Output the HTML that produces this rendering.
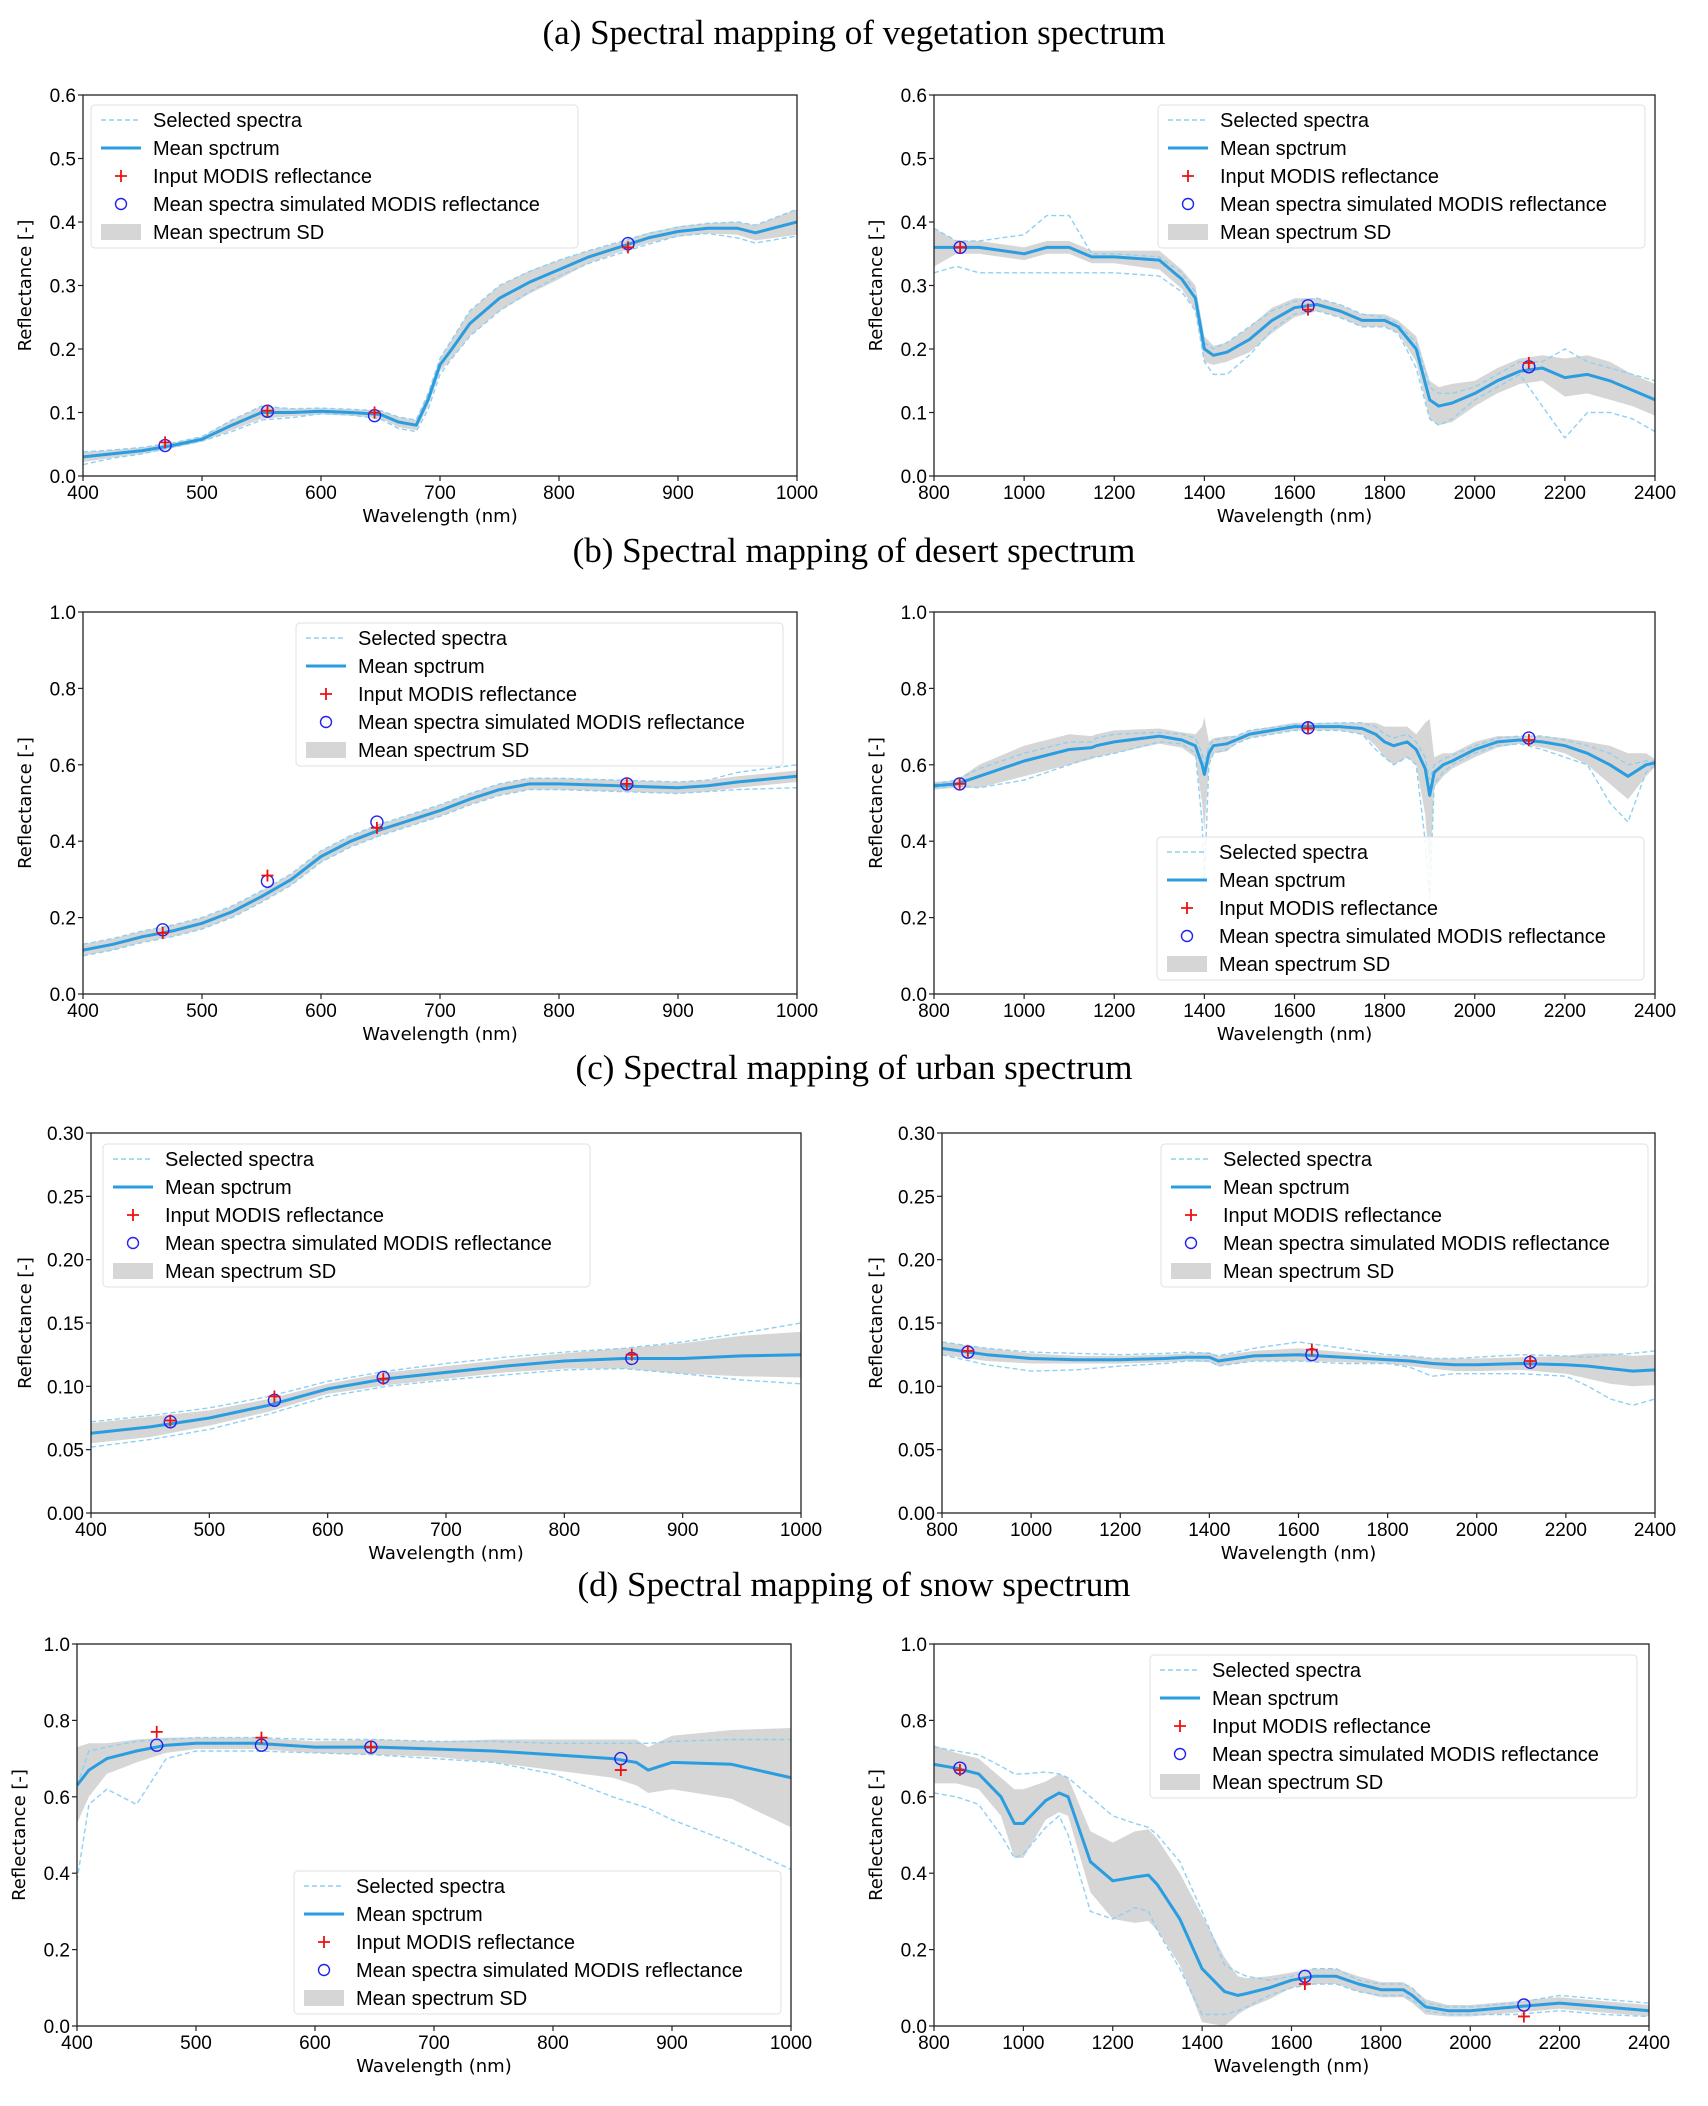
<!DOCTYPE html>
<html><head><meta charset="utf-8">
<style>
html,body{margin:0;padding:0;background:#fff;}
svg{display:block;}
.tk{font-family:"Liberation Sans Narrow","Liberation Sans",sans-serif;font-size:19px;fill:#000;}
.lg{font-family:"Liberation Sans Narrow","Liberation Sans",sans-serif;font-size:20px;fill:#000;}
.al{font-family:"DejaVu Sans","Liberation Sans",sans-serif;font-size:18px;fill:#000;}
.ttl{font-family:"Liberation Serif",serif;font-size:35px;fill:#000;}
</style></head>
<body>
<svg id="fig" width="1708" height="2106" viewBox="0 0 1708 2106" xmlns="http://www.w3.org/2000/svg">
<text class="ttl" x="854" y="44" text-anchor="middle">(a) Spectral mapping of vegetation spectrum</text>
<text class="ttl" x="854" y="562" text-anchor="middle">(b) Spectral mapping of desert spectrum</text>
<text class="ttl" x="854" y="1079" text-anchor="middle">(c) Spectral mapping of urban spectrum</text>
<text class="ttl" x="854" y="1596" text-anchor="middle">(d) Spectral mapping of snow spectrum</text>
</svg>
<script>
// ---------- data ----------
const aLeftWl=[400,425,450,475,500,525,550,575,600,625,650,665,680,690,700,710,725,750,775,800,825,850,875,900,925,950,965,1000];
const aLeftMean=[.03,.035,.04,.048,.058,.08,.10,.10,.102,.10,.097,.085,.08,.12,.175,.2,.24,.28,.305,.325,.345,.36,.375,.385,.39,.39,.383,.40];
const aLeftSd=[.008,.006,.005,.004,.004,.008,.01,.006,.005,.005,.006,.008,.008,.01,.01,.015,.02,.02,.018,.015,.01,.008,.008,.008,.008,.01,.012,.02];
const aLeftSel1=[.038,.041,.045,.052,.062,.088,.11,.106,.107,.105,.103,.093,.088,.13,.185,.215,.26,.3,.322,.34,.355,.368,.382,.392,.398,.4,.395,.42];
const aLeftSel2=[.018,.028,.035,.045,.055,.07,.088,.092,.098,.096,.09,.075,.07,.105,.16,.185,.22,.26,.29,.315,.335,.35,.365,.378,.382,.375,.367,.378];
const aLeftBands=[469,555,645,858];
const aLeftInput=[.053,.103,.1,.36];
const aLeftSim=[.048,.102,.095,.366];

const aRightWl=[800,850,900,1000,1050,1100,1150,1200,1300,1350,1380,1400,1420,1450,1500,1550,1600,1650,1700,1750,1800,1830,1870,1900,1920,1950,2000,2050,2100,2150,2200,2250,2300,2350,2400];
const aRightMean=[.36,.36,.36,.35,.36,.36,.345,.345,.34,.31,.28,.2,.19,.195,.215,.245,.265,.27,.26,.245,.245,.235,.2,.12,.11,.115,.13,.15,.165,.17,.155,.16,.15,.135,.12];
const aRightSd=[.03,.01,.01,.01,.01,.01,.01,.01,.015,.015,.02,.02,.015,.015,.02,.02,.015,.01,.01,.01,.01,.01,.02,.03,.03,.03,.02,.02,.02,.02,.03,.03,.03,.025,.025];
const aRightSel1=[.39,.37,.37,.38,.41,.41,.35,.35,.345,.32,.29,.21,.2,.21,.235,.26,.275,.28,.27,.255,.25,.24,.21,.14,.13,.13,.14,.16,.18,.18,.2,.18,.17,.16,.15];
const aRightSel2=[.32,.33,.32,.32,.32,.32,.32,.32,.315,.29,.26,.18,.16,.16,.19,.23,.255,.26,.25,.235,.235,.225,.17,.09,.08,.09,.12,.14,.16,.11,.06,.1,.1,.09,.07];
const aRightBands=[858,1630,2120];
const aRightInput=[.36,.262,.178];
const aRightSim=[.36,.268,.172];

const bLeftWl=[400,425,450,475,500,525,550,575,600,625,650,675,700,725,750,775,800,850,900,925,950,1000];
const bLeftMean=[.115,.13,.15,.165,.185,.215,.255,.30,.36,.40,.43,.455,.48,.51,.535,.55,.55,.545,.54,.545,.555,.57];
const bLeftSd=[.015,.015,.015,.015,.015,.015,.015,.015,.015,.015,.015,.015,.015,.015,.015,.015,.015,.015,.015,.015,.015,.015];
const bLeftSel1=[.13,.145,.165,.18,.2,.23,.27,.315,.375,.415,.445,.47,.495,.525,.55,.565,.565,.56,.555,.56,.58,.6];
const bLeftSel2=[.1,.115,.135,.15,.17,.2,.24,.285,.345,.385,.415,.44,.465,.495,.52,.535,.535,.53,.525,.53,.535,.54];
const bLeftBands=[467,555,647,857];
const bLeftInput=[.16,.31,.435,.55];
const bLeftSim=[.168,.295,.45,.55];

const bRightWl=[800,850,900,1000,1100,1150,1160,1200,1300,1350,1380,1395,1400,1410,1420,1450,1470,1480,1500,1600,1700,1750,1780,1800,1820,1850,1870,1890,1900,1910,1930,1950,2000,2050,2100,2150,2200,2250,2300,2340,2380,2400];
const bRightMean=[.545,.55,.57,.61,.64,.645,.65,.66,.675,.665,.65,.6,.575,.63,.65,.655,.665,.67,.68,.7,.7,.695,.68,.66,.65,.66,.64,.59,.52,.58,.6,.61,.64,.66,.665,.66,.65,.63,.6,.57,.6,.605];
const bRightSd=[.01,.01,.03,.04,.04,.03,.03,.03,.02,.02,.03,.1,.15,.03,.02,.02,.01,.01,.01,.01,.01,.015,.03,.04,.05,.04,.04,.12,.2,.04,.03,.02,.02,.015,.01,.015,.02,.03,.05,.06,.03,.01];
const bRightSel1=[.55,.56,.59,.63,.66,.66,.67,.68,.685,.68,.67,.63,.6,.65,.665,.67,.675,.68,.69,.705,.71,.71,.7,.68,.67,.68,.66,.62,.56,.6,.615,.625,.65,.67,.675,.675,.665,.65,.63,.6,.61,.61];
const bRightSel2=[.54,.545,.54,.56,.6,.62,.62,.63,.66,.655,.63,.45,.3,.6,.63,.64,.655,.66,.67,.69,.69,.68,.64,.62,.6,.62,.6,.4,.25,.55,.58,.6,.63,.65,.655,.64,.62,.6,.5,.45,.58,.6];
const bRightBands=[857,1630,2120];
const bRightInput=[.55,.695,.665];
const bRightSim=[.55,.697,.67];

const cLeftWl=[400,450,500,550,600,650,700,750,800,850,900,950,1000];
const cLeftMean=[.063,.068,.075,.085,.098,.106,.111,.116,.12,.122,.122,.124,.125];
const cLeftSd=[.008,.008,.006,.005,.004,.005,.005,.005,.006,.008,.012,.016,.018];
const cLeftSel1=[.072,.077,.083,.092,.104,.112,.118,.123,.127,.13,.135,.142,.15];
const cLeftSel2=[.052,.058,.066,.078,.092,.1,.105,.109,.113,.114,.11,.105,.102];
const cLeftBands=[467,555,647,857];
const cLeftInput=[.073,.092,.106,.125];
const cLeftSim=[.072,.089,.107,.122];

const cRightWl=[800,900,1000,1100,1200,1300,1350,1400,1420,1500,1600,1700,1800,1850,1900,1950,2000,2100,2200,2250,2300,2350,2400];
const cRightMean=[.13,.125,.122,.121,.121,.122,.123,.123,.12,.124,.125,.123,.121,.12,.118,.117,.117,.118,.117,.116,.114,.112,.113];
const cRightSd=[.005,.005,.004,.003,.003,.003,.003,.004,.004,.004,.005,.004,.003,.004,.004,.005,.005,.005,.007,.01,.012,.012,.012];
const cRightSel1=[.135,.13,.127,.126,.125,.126,.127,.126,.124,.13,.135,.13,.125,.124,.122,.122,.123,.125,.124,.123,.125,.126,.128];
const cRightSel2=[.125,.117,.112,.113,.116,.118,.12,.12,.116,.12,.12,.118,.118,.115,.108,.11,.11,.11,.108,.1,.09,.085,.09];
const cRightBands=[858,1630,2120];
const cRightInput=[.128,.129,.12];
const cRightSim=[.127,.125,.119];

const dLeftWl=[400,410,425,450,475,500,550,600,650,700,750,800,850,870,880,900,950,1000];
const dLeftMean=[.63,.67,.7,.72,.735,.74,.74,.73,.73,.725,.72,.71,.7,.69,.67,.69,.685,.65];
const dLeftSd=[.1,.07,.04,.03,.02,.015,.015,.015,.02,.02,.03,.04,.05,.06,.06,.07,.09,.13];
const dLeftSel1=[.63,.72,.73,.745,.75,.755,.755,.75,.75,.745,.745,.74,.74,.74,.74,.745,.75,.75];
const dLeftSel2=[.38,.58,.62,.58,.7,.72,.72,.715,.71,.7,.69,.66,.6,.58,.57,.54,.48,.41];
const dLeftBands=[467,555,647,857];
const dLeftInput=[.77,.755,.73,.67];
const dLeftSim=[.735,.735,.73,.7];

const dRightWl=[800,850,900,950,980,1000,1050,1080,1100,1150,1200,1250,1280,1300,1350,1400,1450,1480,1500,1550,1600,1650,1700,1750,1800,1850,1870,1900,1950,2000,2100,2200,2300,2400];
const dRightMean=[.685,.675,.66,.6,.53,.53,.59,.61,.6,.43,.38,.39,.395,.37,.28,.15,.09,.08,.085,.1,.12,.13,.13,.11,.095,.095,.08,.05,.04,.04,.05,.06,.05,.04];
const dRightSd=[.05,.04,.04,.05,.09,.09,.05,.05,.05,.08,.1,.12,.12,.12,.12,.14,.09,.05,.04,.03,.02,.02,.02,.02,.02,.02,.02,.02,.015,.015,.015,.015,.015,.015];
const dRightSel1=[.73,.72,.71,.68,.66,.66,.665,.66,.65,.6,.55,.53,.52,.5,.43,.3,.16,.14,.13,.12,.13,.15,.15,.12,.11,.11,.1,.06,.05,.05,.06,.08,.07,.06];
const dRightSel2=[.61,.6,.58,.5,.44,.45,.52,.55,.5,.3,.28,.31,.3,.25,.15,.03,.03,.04,.05,.08,.1,.11,.11,.09,.08,.08,.07,.04,.03,.03,.03,.04,.03,.025];
const dRightBands=[858,1630,2120];
const dRightInput=[.67,.11,.025];
const dRightSim=[.675,.13,.055];

const leftXTicks=[400,500,600,700,800,900,1000];
const rightXTicks=[800,1000,1200,1400,1600,1800,2000,2200,2400];
const yTicksA=[0,.1,.2,.3,.4,.5,.6];
const yTicksB=[0,.2,.4,.6,.8,1.0];
const yTicksC=[0,.05,.1,.15,.2,.25,.3];
const legendLabels=["Selected spectra","Mean spctrum","Input MODIS reflectance","Mean spectra simulated MODIS reflectance","Mean spectrum SD"];

// ---------- rendering ----------
const NS="http://www.w3.org/2000/svg";
const fig=document.getElementById('fig');
function mk(tag,parent,attrs){const e=document.createElementNS(NS,tag);for(const k in attrs)e.setAttribute(k,attrs[k]);parent.appendChild(e);return e;}

function panel(cfg){
  const g=mk('g',fig,{});
  
  
  const L=cfg.box[0],T=cfg.box[1],R=cfg.box[2],B=cfg.box[3];
  const xs=v=>L+(v-cfg.xr[0])/(cfg.xr[1]-cfg.xr[0])*(R-L);
  const ys=v=>B-(v-cfg.yr[0])/(cfg.yr[1]-cfg.yr[0])*(B-T);
  const cid='clip-'+cfg.name;
  const cp=mk('clipPath',g,{id:cid});mk('rect',cp,{x:L,y:T,width:R-L,height:B-T});
  const pg=mk('g',g,{'clip-path':'url(#'+cid+')'});
  let d='';
  cfg.wl.forEach((w,i)=>{d+=(i?'L':'M')+xs(w).toFixed(1)+','+ys(cfg.mean[i]+cfg.sd[i]).toFixed(1);});
  for(let i=cfg.wl.length-1;i>=0;i--){d+='L'+xs(cfg.wl[i]).toFixed(1)+','+ys(cfg.mean[i]-cfg.sd[i]).toFixed(1);}
  const band=mk('path',pg,{d:d+'Z',fill:'#d6d6d6'});
  
  
  [cfg.sel1,cfg.sel2].forEach((s,k)=>{
    const pts=cfg.wl.map((w,i)=>xs(w).toFixed(1)+','+ys(s[i]).toFixed(1)).join(' ');
    const pl=mk('polyline',pg,{points:pts,fill:'none',stroke:'#8fd0f2','stroke-width':1.4,'stroke-dasharray':'5,3'});
    
    
  });
  const mp=cfg.wl.map((w,i)=>xs(w).toFixed(1)+','+ys(cfg.mean[i]).toFixed(1)).join(' ');
  const ml=mk('polyline',pg,{points:mp,fill:'none',stroke:'#2a9de0','stroke-width':3,'stroke-linejoin':'round'});
  
  
  cfg.bands.forEach((b,i)=>{
    const cx=xs(b),cy=ys(cfg.sim[i]);
    const c=mk('circle',g,{cx:cx,cy:cy,r:6,fill:'none',stroke:'#2222ee','stroke-width':1.4});
    
    
    const px=xs(b),py=ys(cfg.input[i]);
    const p=mk('path',g,{d:`M${px-6},${py}H${px+6}M${px},${py-6}V${py+6}`,stroke:'#ee1111','stroke-width':1.8});
    
    
  });
  const fr=mk('rect',g,{x:L,y:T,width:R-L,height:B-T,fill:'none',stroke:'#222','stroke-width':1.3});
  
  
  cfg.xt.forEach(t=>{
    const x=xs(t);
    mk('line',g,{x1:x,x2:x,y1:B,y2:B+5,stroke:'#222','stroke-width':1.2});
    const tx=mk('text',g,{x:x,y:B+23,'text-anchor':'middle',class:'tk'});tx.textContent=t;
    
    
  });
  cfg.yt.forEach(t=>{
    const y=ys(t);
    mk('line',g,{x1:L-5,x2:L,y1:y,y2:y,stroke:'#222','stroke-width':1.2});
    const tx=mk('text',g,{x:L-7,y:y+7,'text-anchor':'end',class:'tk'});tx.textContent=t.toFixed(cfg.dec);
    
    
  });
  const xl=mk('text',g,{x:(L+R)/2,y:B+46,'text-anchor':'middle',class:'al'});xl.textContent='Wavelength (nm)';
  
  
  const yx=L-(cfg.dec===2?60:52),yy=(T+B)/2;
  const yl=mk('text',g,{x:yx,y:yy,'text-anchor':'middle',class:'al',transform:`rotate(-90 ${yx} ${yy})`});yl.textContent='Reflectance [-]';
  
  
  const lx=cfg.leg[0],ly=cfg.leg[1];
  const lg=mk('g',g,{});
  
  
  mk('rect',lg,{x:lx,y:ly,width:487,height:143,rx:4,fill:'#fff','fill-opacity':0.85,stroke:'#e0e0e0','stroke-width':1});
  legendLabels.forEach((lab,i)=>{
    const ry=ly+15+i*28;
    if(i===0)mk('line',lg,{x1:lx+10,x2:lx+50,y1:ry,y2:ry,stroke:'#8fd0f2','stroke-width':1.4,'stroke-dasharray':'5,3'});
    if(i===1)mk('line',lg,{x1:lx+10,x2:lx+50,y1:ry,y2:ry,stroke:'#2a9de0','stroke-width':3});
    if(i===2)mk('path',lg,{d:`M${lx+24},${ry}H${lx+36}M${lx+30},${ry-6}V${ry+6}`,stroke:'#ee1111','stroke-width':1.8});
    if(i===3)mk('circle',lg,{cx:lx+30,cy:ry,r:5.5,fill:'none',stroke:'#2222ee','stroke-width':1.4});
    if(i===4)mk('rect',lg,{x:lx+10,y:ry-8,width:40,height:16,fill:'#d6d6d6'});
    const t=mk('text',lg,{x:lx+62,y:ry+7,class:'lg'});t.textContent=lab;
    
    
  });
}

panel({name:'vegetation-vnir-chart',box:[83,95,797,476],xr:[400,1000],yr:[0,.6],xt:leftXTicks,yt:yTicksA,dec:1,wl:aLeftWl,mean:aLeftMean,sd:aLeftSd,sel1:aLeftSel1,sel2:aLeftSel2,bands:aLeftBands,input:aLeftInput,sim:aLeftSim,leg:[91,105]});
panel({name:'vegetation-swir-chart',box:[934,95,1655,476],xr:[800,2400],yr:[0,.6],xt:rightXTicks,yt:yTicksA,dec:1,wl:aRightWl,mean:aRightMean,sd:aRightSd,sel1:aRightSel1,sel2:aRightSel2,bands:aRightBands,input:aRightInput,sim:aRightSim,leg:[1158,105]});
panel({name:'desert-vnir-chart',box:[83,612,797,994],xr:[400,1000],yr:[0,1],xt:leftXTicks,yt:yTicksB,dec:1,wl:bLeftWl,mean:bLeftMean,sd:bLeftSd,sel1:bLeftSel1,sel2:bLeftSel2,bands:bLeftBands,input:bLeftInput,sim:bLeftSim,leg:[296,623]});
panel({name:'desert-swir-chart',box:[934,612,1655,994],xr:[800,2400],yr:[0,1],xt:rightXTicks,yt:yTicksB,dec:1,wl:bRightWl,mean:bRightMean,sd:bRightSd,sel1:bRightSel1,sel2:bRightSel2,bands:bRightBands,input:bRightInput,sim:bRightSim,leg:[1157,837]});
panel({name:'urban-vnir-chart',box:[91,1133,801,1513],xr:[400,1000],yr:[0,.3],xt:leftXTicks,yt:yTicksC,dec:2,wl:cLeftWl,mean:cLeftMean,sd:cLeftSd,sel1:cLeftSel1,sel2:cLeftSel2,bands:cLeftBands,input:cLeftInput,sim:cLeftSim,leg:[103,1144]});
panel({name:'urban-swir-chart',box:[942,1133,1655,1513],xr:[800,2400],yr:[0,.3],xt:rightXTicks,yt:yTicksC,dec:2,wl:cRightWl,mean:cRightMean,sd:cRightSd,sel1:cRightSel1,sel2:cRightSel2,bands:cRightBands,input:cRightInput,sim:cRightSim,leg:[1161,1144]});
panel({name:'snow-vnir-chart',box:[77,1644,791,2026],xr:[400,1000],yr:[0,1],xt:leftXTicks,yt:yTicksB,dec:1,wl:dLeftWl,mean:dLeftMean,sd:dLeftSd,sel1:dLeftSel1,sel2:dLeftSel2,bands:dLeftBands,input:dLeftInput,sim:dLeftSim,leg:[294,1871]});
panel({name:'snow-swir-chart',box:[934,1644,1649,2026],xr:[800,2400],yr:[0,1],xt:rightXTicks,yt:yTicksB,dec:1,wl:dRightWl,mean:dRightMean,sd:dRightSd,sel1:dRightSel1,sel2:dRightSel2,bands:dRightBands,input:dRightInput,sim:dRightSim,leg:[1150,1655]});
</script>
</body></html>
